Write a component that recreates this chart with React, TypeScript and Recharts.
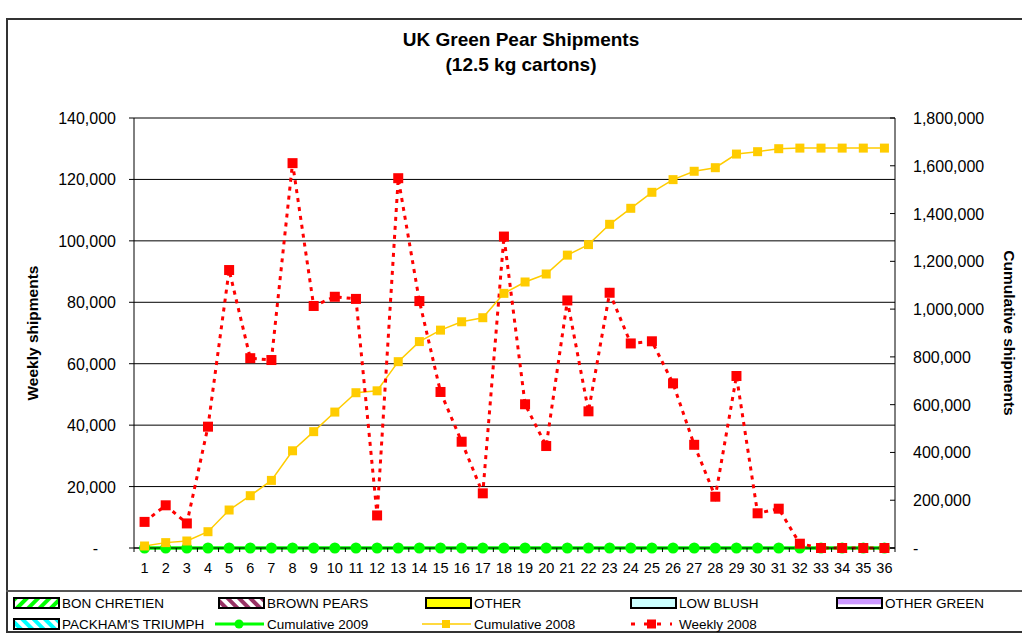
import { ComposedChart, Line, XAxis, YAxis, CartesianGrid } from "recharts"

const weeks = [
  "1", "2", "3", "4", "5", "6", "7", "8", "9", "10", "11", "12",
  "13", "14", "15", "16", "17", "18", "19", "20", "21", "22", "23", "24",
  "25", "26", "27", "28", "29", "30", "31", "32", "33", "34", "35", "36",
]

const weekly2008 = [
  8500, 13900, 8000, 39500, 90500, 61800, 61200, 125300, 78800, 81800, 81100, 10600,
  120400, 80400, 50800, 34600, 17800, 101400, 46800, 33200, 80600, 44500, 83100, 66600,
  67300, 53600, 33600, 16700, 56000, 11300, 12800, 1400, 0, 0, 0, 0,
]

const cumulative2008 = [
  8400, 22500, 29300, 68200, 159000, 219000, 283000, 407000, 487000, 569000, 650000, 658000,
  780000, 864000, 912000, 947000, 964000, 1066000, 1113500, 1147000, 1226000, 1270000, 1355000, 1422000,
  1489000, 1542000, 1577000, 1592000, 1649000, 1659000, 1671500, 1674000, 1674000, 1674000, 1674000, 1674000,
]

const cumulative2009 = [
  0, 0, 0, 0, 0, 0, 0, 0, 0, 0, 0, 0,
  0, 0, 0, 0, 0, 0, 0, 0, 0, 0, 0, 0,
  0, 0, 0, 0, 0, 0, 0, 0, 0, 0, 0, 0,
]

const leftTicks = [0, 20000, 40000, 60000, 80000, 100000, 120000, 140000]
const rightTicks = [0, 200000, 400000, 600000, 800000, 1000000, 1200000, 1400000, 1600000, 1800000]

const data = weeks.map((w, i) => ({
  week: w,
  c2009: cumulative2009[i],
  c2008: cumulative2008[i],
  w2008: weekly2008[i],
}))

const FONT = '"Liberation Sans", Arial, sans-serif'
const BAND = 761 / weeks.length

const fmt = (v: number) => (v === 0 ? "-" : v.toLocaleString("en-US"))

function LeftTick(props: any) {
  const { x, y, payload } = props
  const v = payload.value as number
  return (
    <g>
      <line x1={x - 5} x2={x} y1={y} y2={y} stroke="#000" />
      <text x={v === 0 ? x - 36 : x - 18} y={y + 6} textAnchor="end" fontSize={16} fontFamily={FONT} fill="#000">
        {fmt(v)}
      </text>
    </g>
  )
}

function RightTick(props: any) {
  const { x, y, payload } = props
  const v = payload.value as number
  return (
    <g>
      <line x1={x - 5} x2={x} y1={y} y2={y} stroke="#000" />
      <text x={x + 18} y={y + 6} textAnchor="start" fontSize={16} fontFamily={FONT} fill="#000">
        {fmt(v)}
      </text>
    </g>
  )
}

function WeekTick(props: any) {
  const { x, y, payload, index } = props
  return (
    <g>
      <line x1={x - BAND / 2} x2={x - BAND / 2} y1={y} y2={y + 4} stroke="#000" />
      {index === weeks.length - 1 && (
        <line x1={x + BAND / 2} x2={x + BAND / 2} y1={y} y2={y + 4} stroke="#000" />
      )}
      <text x={x} y={y + 25} textAnchor="middle" fontSize={14.5} fontFamily={FONT} fill="#000">
        {payload.value}
      </text>
    </g>
  )
}

function square(color: string, size: number) {
  return (props: any) => {
    const { cx, cy, index } = props
    if (cx == null || cy == null) return <g key={`n${index}`} />
    return <rect key={`s${index}`} x={cx - size / 2} y={cy - size / 2} width={size} height={size} fill={color} />
  }
}

function circle(color: string, r: number) {
  return (props: any) => {
    const { cx, cy, index } = props
    if (cx == null || cy == null) return <g key={`n${index}`} />
    return <circle key={`c${index}`} cx={cx} cy={cy} r={r} fill={color} />
  }
}

function Legend() {
  const row1 = 603
  const row2 = 624
  const cols = [13, 218, 425, 630, 836]
  const txt = (x: number, y: number, s: string) => (
    <text x={x} y={y + 5} fontSize={13.5} fontFamily={FONT} fill="#000">{s}</text>
  )
  const box = (x: number, y: number, fill: string) => (
    <rect x={x + 1} y={y - 5} width={45} height={10} fill={fill} stroke="#000" strokeWidth={2} />
  )
  return (
    <svg width={1022} height={635} style={{ position: "absolute", left: 0, top: 0 }}>
      <defs>
        <pattern id="pGreen" width="8" height="8" patternUnits="userSpaceOnUse" patternTransform="rotate(45)">
          <rect width="8" height="8" fill="#fff" />
          <rect width="4" height="8" fill="#00ff00" />
        </pattern>
        <pattern id="pBrown" width="8" height="8" patternUnits="userSpaceOnUse" patternTransform="rotate(-45)">
          <rect width="8" height="8" fill="#fff" />
          <rect width="4" height="8" fill="#993366" />
        </pattern>
        <pattern id="pCyan" width="8" height="8" patternUnits="userSpaceOnUse" patternTransform="rotate(-45)">
          <rect width="8" height="8" fill="#fff" />
          <rect width="4" height="8" fill="#00ffff" />
        </pattern>
        <linearGradient id="gPurple" x1="0" y1="0" x2="0" y2="1">
          <stop offset="0" stopColor="#cc99ff" />
          <stop offset="0.55" stopColor="#cc99ff" />
          <stop offset="0.7" stopColor="#fff" />
          <stop offset="1" stopColor="#fff" />
        </linearGradient>
      </defs>
      {box(cols[0], row1, "url(#pGreen)")}
      {txt(cols[0] + 49, row1, "BON CHRETIEN")}
      {box(cols[1], row1, "url(#pBrown)")}
      {txt(cols[1] + 49, row1, "BROWN PEARS")}
      {box(cols[2], row1, "#ffff00")}
      {txt(cols[2] + 49, row1, "OTHER")}
      {box(cols[3], row1, "#ccffff")}
      {txt(cols[3] + 49, row1, "LOW BLUSH")}
      {box(cols[4], row1, "url(#gPurple)")}
      {txt(cols[4] + 49, row1, "OTHER GREEN")}

      {box(cols[0], row2, "url(#pCyan)")}
      {txt(cols[0] + 49, row2, "PACKHAM'S TRIUMPH")}

      <line x1={cols[1] - 3} x2={cols[1] + 46} y1={row2} y2={row2} stroke="#00ff00" strokeWidth={3} />
      <circle cx={cols[1] + 21} cy={row2} r={4.5} fill="#00ff00" />
      {txt(cols[1] + 49, row2, "Cumulative 2009")}

      <line x1={cols[2] - 3} x2={cols[2] + 46} y1={row2} y2={row2} stroke="#ffcc00" strokeWidth={1.5} />
      <rect x={cols[2] + 17} y={row2 - 4} width={8} height={8} fill="#ffcc00" />
      {txt(cols[2] + 49, row2, "Cumulative 2008")}

      <line x1={cols[3]} x2={cols[3] + 42} y1={row2} y2={row2} stroke="#ff0000" strokeWidth={3} strokeDasharray="4 9" strokeDashoffset={-1} />
      <rect x={cols[3] + 17} y={row2 - 4.5} width={9} height={9} fill="#ff0000" />
      {txt(cols[3] + 49, row2, "Weekly 2008")}
    </svg>
  )
}

export default function App() {
  return (
    <div style={{ position: "fixed", left: 0, top: 0, width: 1022, height: 635, background: "#fff", overflow: "hidden", fontFamily: FONT }}>
      {/* frame + legend box */}
      <div style={{ position: "absolute", left: 6, top: 18, width: 1030, height: 615, border: "2px solid #333", boxSizing: "border-box" }} />
      <div style={{ position: "absolute", left: 6, top: 590, width: 1030, height: 2, background: "#555" }} />

      <div style={{ position: "absolute", left: 521, top: 27, transform: "translateX(-50%)", textAlign: "center", fontWeight: "bold", fontSize: 19, lineHeight: "25px", whiteSpace: "nowrap" }}>
        UK Green Pear Shipments
        <br />
        (12.5 kg cartons)
      </div>

      <div style={{ position: "absolute", left: 33, top: 333, transform: "translate(-50%, -50%) rotate(-90deg)", fontWeight: "bold", fontSize: 15.5, whiteSpace: "nowrap" }}>
        Weekly shipments
      </div>
      <div style={{ position: "absolute", left: 1009, top: 333, transform: "translate(-50%, -50%) rotate(90deg)", fontWeight: "bold", fontSize: 15.5, whiteSpace: "nowrap" }}>
        Cumulative shipments
      </div>

      <div style={{ position: "absolute", left: 0, top: 0 }}>
        <ComposedChart width={1022} height={591} data={data} margin={{ top: 118, right: 47, bottom: 13, left: 0 }}>
          <CartesianGrid yAxisId="left" vertical={false} stroke="#000" strokeWidth={1} />
          <XAxis
            dataKey="week"
            height={30}
            interval={0}
            padding={{ left: BAND / 2, right: BAND / 2 }}
            tickSize={0}
            tickMargin={0}
            tickLine={false}
            tick={<WeekTick />}
            axisLine={{ stroke: "#000" }}
          />
          <YAxis
            yAxisId="left"
            width={134}
            domain={[0, 140000]}
            ticks={leftTicks}
            interval={0}
            tickSize={0}
            tickMargin={0}
            tickLine={false}
            tick={<LeftTick />}
            axisLine={{ stroke: "#000" }}
          />
          <YAxis
            yAxisId="right"
            orientation="right"
            width={80}
            domain={[0, 1800000]}
            ticks={rightTicks}
            interval={0}
            tickSize={0}
            tickMargin={0}
            tickLine={false}
            tick={<RightTick />}
            axisLine={{ stroke: "#000" }}
          />
          <Line
            yAxisId="left"
            dataKey="c2009"
            stroke="#00ff00"
            strokeWidth={3.5}
            dot={circle("#00ff00", 5.5)}
            isAnimationActive={false}
          />
          <Line
            yAxisId="right"
            dataKey="c2008"
            stroke="#ffcc00"
            strokeWidth={1.5}
            dot={square("#ffcc00", 9)}
            isAnimationActive={false}
          />
          <Line
            yAxisId="left"
            dataKey="w2008"
            stroke="#ff0000"
            strokeWidth={3}
            strokeDasharray="4 5"
            dot={square("#ff0000", 10)}
            isAnimationActive={false}
          />
        </ComposedChart>
      </div>

      <Legend />
    </div>
  )
}
